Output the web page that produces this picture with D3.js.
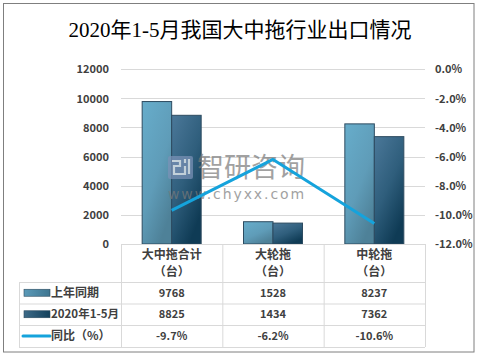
<!DOCTYPE html>
<html><head><meta charset="utf-8">
<script src="https://cdn.jsdelivr.net/npm/d3@7"></script>
<style>body{margin:0;background:#fff}svg{display:block}</style>
</head><body><svg id="c" width="479" height="356"></svg>
<script>
const title = "2020年1-5月我国大中拖行业出口情况";
const categories = ["大中拖合计", "大轮拖", "中轮拖"];
const unitLabel = "（台）";
const seriesNames = ["上年同期", "2020年1-5月", "同比（%）"];
const lastYear = [9768, 1528, 8237];
const thisYear = [8825, 1434, 7362];
const yoy = [-9.7, -6.2, -10.6];
const leftTicks = [0, 2000, 4000, 6000, 8000, 10000, 12000];
const rightTicks = [0, -2, -4, -6, -8, -10, -12];

const svg = d3.select("#c");
const plot = {l: 121, r: 425, t: 69, b: 244};
const font = "'Noto Sans CJK SC','Liberation Sans',sans-serif";
const pct = d => (d < 0 ? "-" : "") + Math.abs(d).toFixed(1) + "%";

const defs = svg.append("defs");
function grad(id, stops) {
  const g = defs.append("linearGradient").attr("id", id)
    .attr("x1", 0).attr("y1", 0).attr("x2", 0.6).attr("y2", 1);
  stops.forEach(s => g.append("stop").attr("offset", s[0]).attr("stop-color", s[1]));
}
grad("g1", [[0, "#67adcb"], [0.6, "#5f9cb8"], [1, "#4e8198"]]);
grad("g2", [[0, "#4b7899"], [0.55, "#2f5e7c"], [1, "#0f3b55"]]);
function hgrad(id, a, b) {
  const g = defs.append("linearGradient").attr("id", id).attr("x1", 0).attr("y1", 0).attr("x2", 1).attr("y2", 0);
  g.append("stop").attr("offset", 0).attr("stop-color", a);
  g.append("stop").attr("offset", 1).attr("stop-color", b);
}
hgrad("lg1", "#5b9ab8", "#3e7590");
hgrad("lg2", "#3d6a88", "#12405b");

// outer border
svg.append("rect").attr("x", 3.5).attr("y", 3.5).attr("width", 470.5).attr("height", 348.5)
  .attr("fill", "#fff").attr("stroke", "#7f7f7f").attr("stroke-width", 1);

// title
svg.append("text").attr("x", 240).attr("y", 37).attr("text-anchor", "middle")
  .attr("font-family", "'Liberation Serif','Noto Sans CJK SC',serif").attr("font-size", 21)
  .attr("fill", "#000").text(title);

const x = d3.scaleBand().domain(categories).range([plot.l, plot.r]).paddingInner(0).paddingOuter(0);
const yL = d3.scaleLinear().domain([0, 12000]).range([plot.b, plot.t]);
const yR = d3.scaleLinear().domain([-12, 0]).range([plot.b, plot.t]);
const barW = 29.5;

// gridlines
svg.append("g").selectAll("line").data(leftTicks.filter(d => d > 0)).join("line")
  .attr("x1", plot.l).attr("x2", plot.r)
  .attr("y1", d => Math.round(yL(d)) + 0.5).attr("y2", d => Math.round(yL(d)) + 0.5)
  .attr("stroke", "#d9d9d9");

// left axis
const la = svg.append("g").attr("transform", `translate(${plot.l - 12},0)`)
  .call(d3.axisLeft(yL).tickValues(leftTicks).tickSize(0).tickPadding(0).tickFormat(d3.format("d")));
la.select(".domain").remove();
la.selectAll("text").attr("font-family", font).attr("font-size", 11).attr("font-weight", "bold").attr("fill", "#404040").attr("dy", "0.35em");

// right axis
const ra = svg.append("g").attr("transform", `translate(${plot.r + 10},0)`)
  .call(d3.axisRight(yR).tickValues(rightTicks).tickSize(0).tickPadding(0).tickFormat(pct));
ra.select(".domain").remove();
ra.selectAll("text").attr("font-family", font).attr("font-size", 11).attr("font-weight", "bold").attr("fill", "#404040").attr("dy", "0.35em");

// bars
const cx = c => x(c) + x.bandwidth() / 2;
const series = [{vals: lastYear, fill: "url(#g1)", off: -barW}, {vals: thisYear, fill: "url(#g2)", off: 0}];
series.forEach(s => {
  svg.append("g").selectAll("rect").data(categories).join("rect")
    .attr("x", (c) => cx(c) + s.off)
    .attr("y", (c, i) => yL(s.vals[i]))
    .attr("width", barW)
    .attr("height", (c, i) => yL(0) - yL(s.vals[i]))
    .attr("fill", s.fill).attr("stroke", "#2d4b60").attr("stroke-width", 1);
});

// watermark
const wm = svg.append("g").attr("opacity", 0.7);
wm.append("rect").attr("x", 168).attr("y", 156).attr("width", 25).attr("height", 23).attr("rx", 2)
  .attr("fill", "#7d93b8");
wm.append("path").attr("d", "M172,161 h8 v5 h-6 v8 h7 M185,159 v4 M185,166 v8 h-4 M189,159 v15")
  .attr("fill", "none").attr("stroke", "#fff").attr("stroke-width", 2.2);
wm.append("text").attr("x", 197).attr("y", 177).attr("font-family", font).attr("font-size", 27)
  .attr("fill", "#7a7a7a").text("智研咨询");
wm.append("text").attr("x", 168).attr("y", 199).attr("font-family", "'DejaVu Sans',sans-serif").attr("font-size", 14)
  .attr("letter-spacing", 1.9).attr("fill", "#7a7a7a").text("www.chyxx.com");

// line
const line = d3.line().x((d, i) => cx(categories[i])).y(d => yR(d));
svg.append("path").datum(yoy).attr("d", line).attr("fill", "none")
  .attr("stroke", "#15a3dc").attr("stroke-width", 3).attr("stroke-linejoin", "round");

// table
const tbl = svg.append("g");
const rowY = [244, 282, 303.5, 325, 347];
const colX = [19, plot.l, x(categories[1]), x(categories[2]), plot.r];
const tc = "#d9d9d9";
tbl.append("line").attr("x1", plot.l).attr("x2", plot.r).attr("y1", 244.5).attr("y2", 244.5).attr("stroke", tc);
rowY.slice(1).forEach(y => tbl.append("line").attr("x1", colX[0]).attr("x2", plot.r).attr("y1", y + 0.5).attr("y2", y + 0.5).attr("stroke", tc));
colX.forEach((cxv, i) => tbl.append("line").attr("x1", cxv + 0.5).attr("x2", cxv + 0.5)
  .attr("y1", i === 0 ? rowY[1] : rowY[0]).attr("y2", rowY[4]).attr("stroke", tc));

categories.forEach(c => {
  tbl.append("text").attr("x", cx(c)).attr("y", 259).attr("text-anchor", "middle")
    .attr("font-family", font).attr("font-size", 12).attr("font-weight", "bold").attr("fill", "#404040").text(c);
  tbl.append("text").attr("x", cx(c)).attr("y", 276).attr("text-anchor", "middle")
    .attr("font-family", font).attr("font-size", 12).attr("font-weight", "bold").attr("fill", "#404040").text(unitLabel);
});
const rows = [lastYear.map(d3.format("d")), thisYear.map(d3.format("d")), yoy.map(pct)];
rows.forEach((r, ri) => {
  const my = (rowY[ri + 1] + rowY[ri + 2]) / 2;
  r.forEach((v, ci) => tbl.append("text").attr("x", cx(categories[ci])).attr("y", my).attr("dy", "0.35em")
    .attr("text-anchor", "middle").attr("font-family", font).attr("font-size", 11).attr("font-weight", "bold")
    .attr("fill", "#404040").text(v));
  if (ri < 2) {
    tbl.append("rect").attr("x", 24).attr("y", my - 3.5).attr("width", 26).attr("height", 7)
      .attr("fill", ri === 0 ? "url(#lg1)" : "url(#lg2)").attr("stroke", "#2d4b60").attr("stroke-width", 0.6);
  } else {
    tbl.append("line").attr("x1", 23).attr("x2", 50).attr("y1", my).attr("y2", my)
      .attr("stroke", "#15a3dc").attr("stroke-width", 3).attr("stroke-linecap", "round");
  }
  tbl.append("text").attr("x", 51).attr("y", my).attr("dy", "0.35em").attr("font-family", font)
    .attr("font-size", ri === 1 ? 11.5 : 12).attr("font-weight", "bold").attr("fill", "#404040").text(seriesNames[ri]);
});
</script></body></html>
